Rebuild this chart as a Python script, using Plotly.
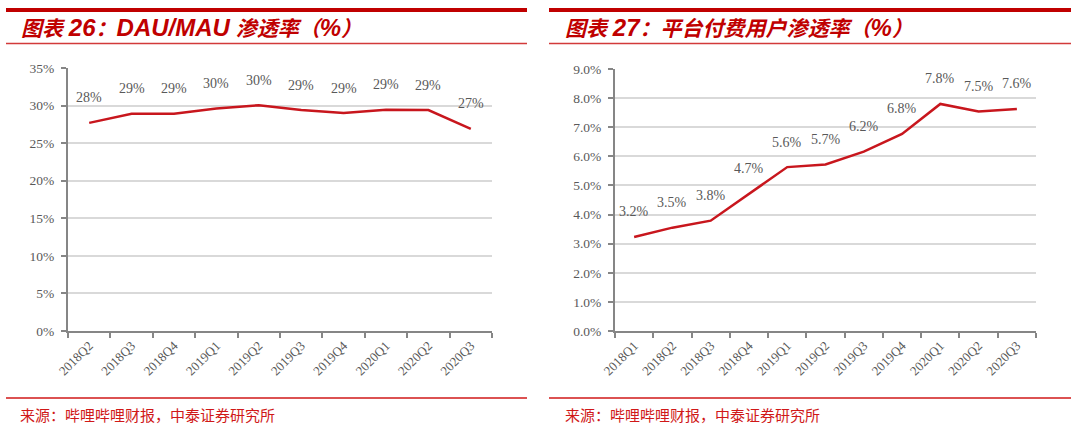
import plotly.graph_objects as go

# ---- data ----
dau_quarters = ["2018Q2", "2018Q3", "2018Q4", "2019Q1", "2019Q2", "2019Q3",
                "2019Q4", "2020Q1", "2020Q2", "2020Q3"]
dau_mau_pct = [27.7, 28.9, 28.9, 29.6, 30.05, 29.4, 29.0, 29.45, 29.4, 26.9]

pay_quarters = ["2018Q1", "2018Q2", "2018Q3", "2018Q4", "2019Q1", "2019Q2",
                "2019Q3", "2019Q4", "2020Q1", "2020Q2", "2020Q3"]
pay_pct = [3.23, 3.55, 3.79, 4.72, 5.63, 5.72, 6.16, 6.77, 7.80, 7.54, 7.63]

# title pieces: (text, is_latin)
left_title = [("图表 ", False), ("26", True), ("：", False), ("DAU/MAU", True),
              (" 渗透率（", False), ("%", True), ("）", False)]
right_title = [("图表 ", False), ("27", True), ("：", False),
               ("平台付费用户渗透率（", False), ("%", True), ("）", False)]
source_text = "来源：哔哩哔哩财报，中泰证券研究所"

# ---- style ----
W, H = 1080, 434
RED = "#C00000"
LINE_RED = "#C8161D"
GREY_TXT = "#595959"
AXIS_GREY = "#868686"
GRID = "#D9D9D9"
SERIF = "Liberation Serif, Times New Roman, serif"
CJK = "Liberation Sans, Noto Sans CJK SC, sans-serif"


def px_x(p):
    return p / W


def px_y(p):
    return 1 - p / H


def title_html(parts):
    out = []
    for txt, latin in parts:
        if latin:
            out.append(f'<span style="font-size:24px">{txt}</span>')
        else:
            out.append(txt)
    return "<b><i>" + "".join(out) + "</i></b>"


fig = go.Figure()

fig.add_trace(go.Scatter(x=dau_quarters, y=dau_mau_pct, mode="lines",
                         line=dict(color=LINE_RED, width=2.5),
                         xaxis="x", yaxis="y", showlegend=False, hoverinfo="skip"))
fig.add_trace(go.Scatter(x=pay_quarters, y=pay_pct, mode="lines",
                         line=dict(color=LINE_RED, width=2.5),
                         xaxis="x2", yaxis="y2", showlegend=False, hoverinfo="skip"))

common_x = dict(showline=True, linecolor=AXIS_GREY, linewidth=2,
                ticks="outside", ticklen=5, tickwidth=1.5, tickcolor=AXIS_GREY,
                tickson="boundaries", tickangle=-45, showgrid=False,
                tickfont=dict(family=SERIF, size=13, color=GREY_TXT),
                fixedrange=True)
common_y = dict(showline=True, linecolor=AXIS_GREY, linewidth=2,
                ticks="outside", ticklen=5, tickwidth=1.5, tickcolor=AXIS_GREY,
                showgrid=True, gridcolor=GRID, gridwidth=1.5, zeroline=False,
                tickfont=dict(family=SERIF, size=13.5, color=GREY_TXT),
                ticklabelstandoff=4, fixedrange=True)

fig.update_layout(
    width=W, height=H,
    margin=dict(l=0, r=0, t=0, b=0, autoexpand=False),
    paper_bgcolor="white", plot_bgcolor="white",
    xaxis=dict(domain=[px_x(68), px_x(492)], anchor="y",
               range=[-0.5, len(dau_quarters) - 0.5], **common_x),
    yaxis=dict(domain=[px_y(331), px_y(68)], anchor="x",
               range=[0, 35], dtick=5, ticksuffix="%", **common_y),
    xaxis2=dict(domain=[px_x(615), px_x(1036)], anchor="y2",
                range=[-0.5, len(pay_quarters) - 0.5], **common_x),
    yaxis2=dict(domain=[px_y(331), px_y(69)], anchor="x2",
                range=[0, 9], dtick=1, tickformat=".1f", ticksuffix="%", **common_y),
)

annotations = []
for q, v in zip(dau_quarters, dau_mau_pct):
    annotations.append(dict(x=q, y=v, xref="x", yref="y", text=f"{v:.0f}%",
                            showarrow=False, yshift=25,
                            font=dict(family=SERIF, size=14, color=GREY_TXT)))
for q, v in zip(pay_quarters, pay_pct):
    annotations.append(dict(x=q, y=v, xref="x2", yref="y2", text=f"{v:.1f}%",
                            showarrow=False, yshift=25,
                            font=dict(family=SERIF, size=14, color=GREY_TXT)))

# titles and sources
for x0, parts in [(19, left_title), (563, right_title)]:
    annotations.append(dict(x=px_x(x0), y=px_y(28), xref="paper", yref="paper",
                            xanchor="left", yanchor="middle", showarrow=False,
                            text=title_html(parts),
                            font=dict(family=CJK, size=21, color=RED)))
for x0 in (18, 563):
    annotations.append(dict(x=px_x(x0), y=px_y(414), xref="paper", yref="paper",
                            xanchor="left", yanchor="middle", showarrow=False,
                            text=source_text,
                            font=dict(family="Noto Sans CJK SC", size=15, color="#D01818")))
fig.update_layout(annotations=annotations)

shapes = []
for x0, x1 in [(6, 527), (549, 1071)]:
    shapes.append(dict(type="line", xref="paper", yref="paper",
                       x0=px_x(x0), x1=px_x(x1), y0=px_y(10), y1=px_y(10),
                       line=dict(color=RED, width=4)))
    shapes.append(dict(type="line", xref="paper", yref="paper",
                       x0=px_x(x0), x1=px_x(x1), y0=px_y(43.5), y1=px_y(43.5),
                       line=dict(color="#D23A3A", width=1.5)))
    shapes.append(dict(type="line", xref="paper", yref="paper",
                       x0=px_x(x0), x1=px_x(x1), y0=px_y(398), y1=px_y(398),
                       line=dict(color="#D01818", width=1.5)))
fig.update_layout(shapes=shapes)

fig.write_html("out.html",
               post_script="document.body.style.margin='0';document.body.style.overflow='hidden';")
